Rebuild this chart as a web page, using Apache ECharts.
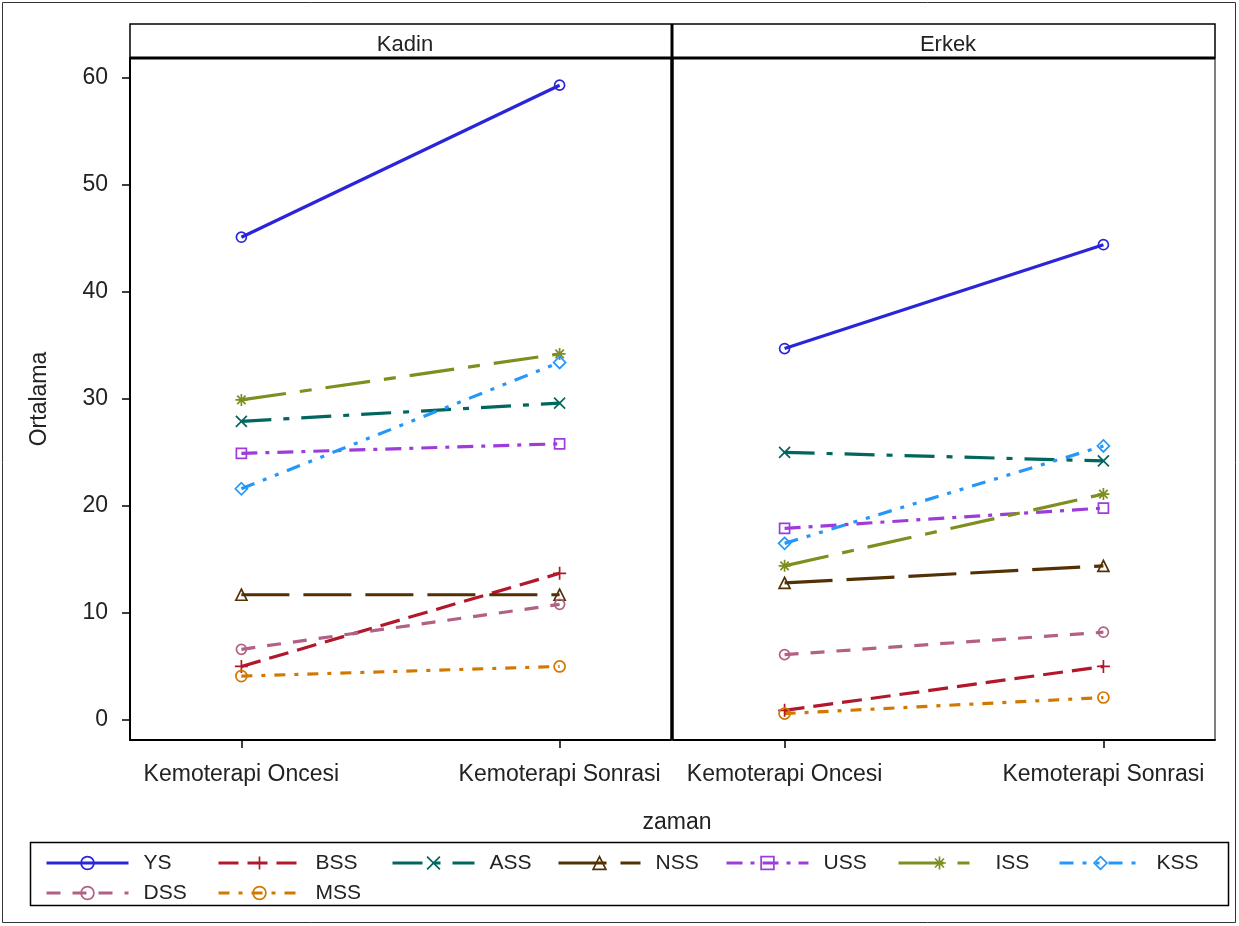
<!DOCTYPE html>
<html>
<head>
<meta charset="utf-8">
<script src="https://cdn.jsdelivr.net/npm/echarts@6/dist/echarts.min.js"></script>
<style>
html,body{margin:0;padding:0;background:#fff;}
#chart{width:1239px;height:926px;}
</style>
</head>
<body>
<div id="chart"></div>
<script>
// ---- data ----
const categories = ['Kemoterapi Oncesi', 'Kemoterapi Sonrasi'];
const panels = ['Kadin', 'Erkek'];
const yTicks = [0, 10, 20, 30, 40, 50, 60];
const seriesNames = ['YS', 'BSS', 'ASS', 'NSS', 'USS', 'ISS', 'KSS', 'DSS', 'MSS'];

const ysKadin  = [45.1, 59.3];
const bssKadin = [5.0, 13.7];
const assKadin = [27.9, 29.6];
const nssKadin = [11.7, 11.7];
const ussKadin = [24.9, 25.8];
const issKadin = [29.9, 34.2];
const kssKadin = [21.6, 33.4];
const dssKadin = [6.6, 10.8];
const mssKadin = [4.1, 5.0];

const ysErkek  = [34.7, 44.4];
const bssErkek = [0.9, 5.0];
const assErkek = [25.0, 24.2];
const nssErkek = [12.8, 14.4];
const ussErkek = [17.9, 19.8];
const issErkek = [14.4, 21.1];
const kssErkek = [16.5, 25.6];
const dssErkek = [6.1, 8.2];
const mssErkek = [0.6, 2.1];

const kadinData = [ysKadin, bssKadin, assKadin, nssKadin, ussKadin, issKadin, kssKadin, dssKadin, mssKadin];
const erkekData = [ysErkek, bssErkek, assErkek, nssErkek, ussErkek, issErkek, kssErkek, dssErkek, mssErkek];

// ---- styles ----
const colors = ['#2A25D9', '#B2182B', '#01665E', '#543005', '#9D3CDB', '#7F8E1F', '#2597FA', '#B26084', '#D17800'];
const dashes = [
  'solid',
  [20, 9],
  [30, 12, 6, 12],
  [48, 14],
  [16, 8, 4, 8],
  [45, 14, 12, 14],
  [14, 9, 4, 9, 4, 9],
  [14, 12],
  [11, 9, 4, 9]
];
const PLUS = 'path://M5,0L5,10M0,5L10,5';
const XMARK = 'path://M0,0L10,10M10,0L0,10';
const AST = 'path://M5,0L5,10M0,5L10,5M1.5,1.5L8.5,8.5M8.5,1.5L1.5,8.5';
const symbols = ['circle', PLUS, XMARK, 'triangle', 'rect', AST, 'diamond', 'circle', 'circle'];
const symSizes = [10, 13, 11, 11, 10, 12, 12, 10, 11];

const FONT = 'Liberation Sans';
const TXT = '#222';

function buildSeries(dataList, gridIdx) {
  return seriesNames.map((name, i) => ({
    type: 'line',
    name: name,
    xAxisIndex: gridIdx,
    yAxisIndex: gridIdx,
    data: dataList[i].map((v, j) => [j, v]),
    symbol: symbols[i],
    symbolSize: symSizes[i],
    showAllSymbol: true,
    lineStyle: { color: colors[i], width: 3.2, type: dashes[i] },
    itemStyle: { color: 'rgba(255,255,255,0)', borderColor: colors[i], borderWidth: 1.7 },
    emphasis: { disabled: true },
    animation: false,
    z: 3
  }));
}

function xAxis(gridIdx) {
  return {
    type: 'value', gridIndex: gridIdx, min: -0.35, max: 1.35,
    axisLine: { show: true, onZero: false, lineStyle: { color: '#000', width: 2 } },
    axisTick: { show: true, length: 8, customValues: [0, 1], lineStyle: { color: '#000', width: 1.5 } },
    axisLabel: {
      customValues: [0, 1], margin: 23,
      formatter: v => categories[Math.round(v)],
      fontFamily: FONT, fontSize: 23, color: TXT
    },
    splitLine: { show: false }
  };
}

function yAxis(gridIdx) {
  const show = gridIdx === 0;
  return {
    type: 'value', gridIndex: gridIdx, min: -1.87, max: 61.84,
    axisLine: { show: show, onZero: false, lineStyle: { color: '#000', width: 2 } },
    axisTick: { show: show, length: 8, customValues: yTicks, lineStyle: { color: '#000', width: 1.5 } },
    axisLabel: { show: show, customValues: yTicks, margin: 22, fontFamily: FONT, fontSize: 23, color: TXT },
    splitLine: { show: false }
  };
}

const legendCols = [
  { names: ['YS', 'DSS'], left: 40 },
  { names: ['BSS', 'MSS'], left: 212 },
  { names: ['ASS'], left: 386 },
  { names: ['NSS'], left: 552 },
  { names: ['USS'], left: 720 },
  { names: ['ISS'], left: 892 },
  { names: ['KSS'], left: 1053 }
];

const legends = legendCols.map(c => ({
  data: c.names,
  left: c.left, top: 846,
  orient: 'vertical',
  itemWidth: 82, itemHeight: 16, itemGap: 6,
  selectedMode: false,
  lineStyle: { width: 3 },
  itemStyle: { borderWidth: 1.7 },
  textStyle: { fontFamily: FONT, fontSize: 21, lineHeight: 24, color: TXT, padding: [0, 0, 0, 10] }
}));

const chart = echarts.init(document.getElementById('chart'), null, { renderer: 'canvas' });
chart.setOption({
  animation: false,
  backgroundColor: '#fff',
  grid: [
    { left: 130, right: 568, top: 58, bottom: 186, show: true, borderColor: '#000', borderWidth: 1 },
    { left: 673, right: 24, top: 58, bottom: 186, show: true, borderColor: '#000', borderWidth: 1 }
  ],
  xAxis: [xAxis(0), xAxis(1)],
  yAxis: [yAxis(0), yAxis(1)],
  legend: legends,
  title: [
    { text: panels[0], left: 400, top: 29, textAlign: 'center', textStyle: { fontFamily: FONT, fontSize: 22, fontWeight: 'normal', color: TXT } },
    { text: panels[1], left: 943, top: 29, textAlign: 'center', textStyle: { fontFamily: FONT, fontSize: 22, fontWeight: 'normal', color: TXT } },
    { text: 'zaman', left: 672, top: 806, textAlign: 'center', textStyle: { fontFamily: FONT, fontSize: 23, fontWeight: 'normal', color: TXT } }
  ],
  graphic: [
    { type: 'rect', shape: { x: 2.5, y: 2.5, width: 1233, height: 920 }, style: { fill: 'none', stroke: '#333', lineWidth: 1 }, z: 0 },
    { type: 'rect', shape: { x: 130, y: 24, width: 1085, height: 34 }, style: { fill: 'none', stroke: '#000', lineWidth: 1.5 }, z: 10 },
    { type: 'line', shape: { x1: 130, y1: 58, x2: 1215, y2: 58 }, style: { stroke: '#000', lineWidth: 3 }, z: 10 },
    { type: 'line', shape: { x1: 672, y1: 24, x2: 672, y2: 740 }, style: { stroke: '#000', lineWidth: 3 }, z: 10 },
    { type: 'rect', shape: { x: 30.5, y: 842.5, width: 1198, height: 63 }, style: { fill: 'none', stroke: '#000', lineWidth: 1.5 }, z: 10 },
    { type: 'text', rotation: Math.PI / 2, x: 40, y: 399, style: { text: 'Ortalama', font: '23px "Liberation Sans"', fill: TXT, align: 'center', verticalAlign: 'middle' } }
  ],
  series: buildSeries(kadinData, 0).concat(buildSeries(erkekData, 1))
});
</script>
</body>
</html>
